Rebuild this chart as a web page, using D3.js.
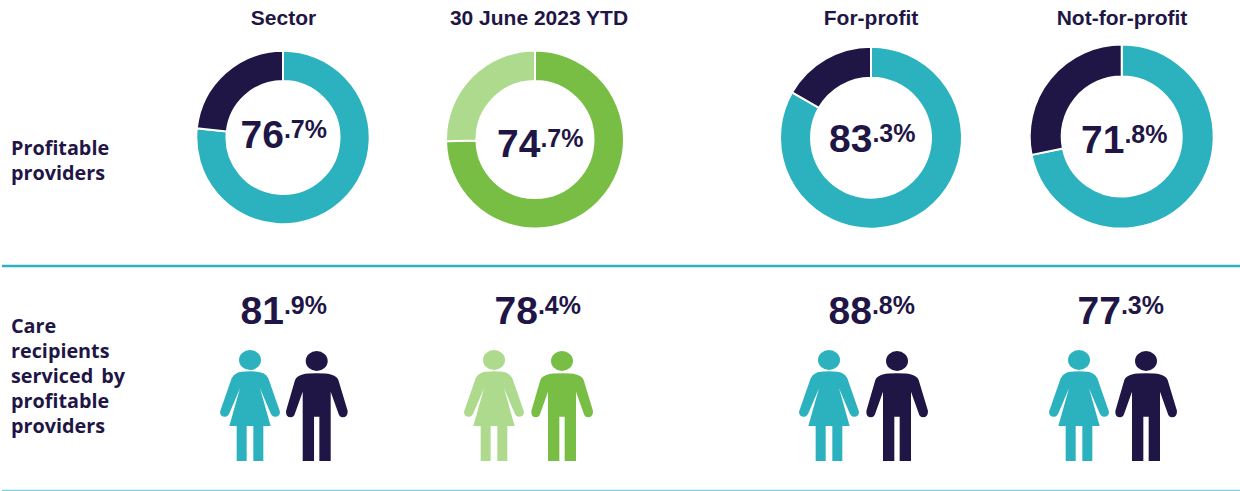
<!DOCTYPE html>
<html>
<head>
<meta charset="utf-8">
<script src="https://cdn.jsdelivr.net/npm/d3@7"></script>
<style>
  html, body { margin: 0; padding: 0; background: #fff; overflow: hidden; }
  text { fill: #1f1646; font-family: "Liberation Sans", Arial, sans-serif; }
</style>
</head>
<body>
<svg id="chart" width="1240" height="491"></svg>
<script>
const categories = ["Sector", "30 June 2023 YTD", "For-profit", "Not-for-profit"];
const profitableProviders = [76.7, 74.7, 83.3, 71.8];
const careRecipients = [81.9, 78.4, 88.8, 77.3];
const rowLabels = [["Profitable", "providers"], ["Care", "recipients", "serviced by", "profitable", "providers"]];

const teal = "#2cb2be", navy = "#1f1646", green = "#78be44", lightGreen = "#aeda8d";

// layout. the donuts are not quite the same size
const donutLayout = [
  { cx: 283, cy: 137.5, r: 86.7, inner: 56.5, labelX: 240.5, labelY: 148, headX: 283.5 },
  { cx: 535, cy: 139.5, r: 89, inner: 58.5, labelX: 497, labelY: 156.5, headX: 539 },
  { cx: 871, cy: 137.7, r: 91, inner: 60, labelX: 829, labelY: 151.5, headX: 871 },
  { cx: 1121.7, cy: 136.5, r: 92, inner: 60, labelX: 1081, labelY: 153, headX: 1122 }
];
const careLayout = [
  { labelX: 240.5, female: 250, male: 316.7 },
  { labelX: 494.5, female: 494, male: 562 },
  { labelX: 828.5, female: 829, male: 897 },
  { labelX: 1077.5, female: 1079, male: 1146 }
];
const colours = [[teal, navy], [green, lightGreen], [teal, navy], [teal, navy]];
const figureColours = [[teal, navy], [lightGreen, green], [teal, navy], [teal, navy]];

// figures, origin at the centre of the head
const femalePath = "M-40,40 Q-30,34 0,34 Q30,34 40,40 Q50,44 55,55 L90,155 Q90,170 75,170 Q65,170 60,155 L30,85 L62,198 L40,198 L40,303 L10,303 L10,198 L-10,198 L-10,303 L-40,303 L-40,198 L-62,198 L-30,85 L-60,155 Q-65,170 -75,170 Q-90,170 -90,155 L-55,55 Q-50,44 -40,40 Z";
const malePath = "M-40,40 Q-30,37 0,37 Q30,37 40,40 Q60,45 65,57 L93,150 Q93,169 78,169 Q68,169 65,157 L42,92 L42,300 L8,300 L8,167 L-8,167 L-8,300 L-42,300 L-42,92 L-65,157 Q-68,169 -78,169 Q-93,169 -92,150 L-65,57 Q-60,45 -40,40 Z";

const svg = d3.select("#chart");

const pie = d3.pie().sort(null).value(d => d);

function pctLabel(sel, value, x, y) {
  const parts = value.toFixed(1).split(".");
  const t = sel.append("text").attr("x", x).attr("y", y).attr("font-weight", 700);
  t.append("tspan").attr("font-size", 39).text(parts[0]);
  t.append("tspan").attr("font-size", 25).attr("dy", -10).text("." + parts[1] + "%");
}

// column headings
svg.selectAll(".head")
  .data(categories)
  .enter().append("text")
    .attr("class", "head")
    .attr("x", (d, i) => donutLayout[i].headX)
    .attr("y", 25)
    .attr("text-anchor", "middle")
    .attr("font-size", 21)
    .attr("font-weight", 700)
    .text(d => d);

// row labels
rowLabels.forEach((lines, r) => {
  lines.forEach((line, i) => {
    svg.append("text")
      .attr("x", 11)
      .attr("y", (r === 0 ? 155 : 333) + i * 25)
      .attr("font-size", 19.8)
      .attr("font-weight", 700)
      .attr("word-spacing", 3)
      .style("font-family", "'Open Sans', sans-serif")
      .text(line);
  });
});

// donuts
profitableProviders.forEach((v, i) => {
  const l = donutLayout[i];
  const arc = d3.arc().innerRadius(l.inner).outerRadius(l.r);
  const g = svg.append("g").attr("transform", `translate(${l.cx},${l.cy})`);
  g.selectAll("path")
    .data(pie([v, 100 - v]))
    .enter().append("path")
      .attr("d", arc)
      .attr("fill", (d, j) => colours[i][j])
      .attr("stroke", "#fff")
      .attr("stroke-width", 2);
  pctLabel(svg, v, l.labelX, l.labelY);
});

// care recipient figures
careRecipients.forEach((v, i) => {
  const l = careLayout[i];
  pctLabel(svg, v, l.labelX, 324);
  const female = svg.append("g").attr("transform", `translate(${l.female},360) scale(0.3333)`).attr("fill", figureColours[i][0]);
  female.append("ellipse").attr("rx", 33).attr("ry", 30);
  female.append("path").attr("d", femalePath);
  const male = svg.append("g").attr("transform", `translate(${l.male},361) scale(0.3333)`).attr("fill", figureColours[i][1]);
  male.append("ellipse").attr("rx", 33).attr("ry", 30);
  male.append("path").attr("d", malePath);
});

// row rules
svg.append("line").attr("x1", 2).attr("x2", 1240).attr("y1", 266).attr("y2", 266).attr("stroke", teal).attr("stroke-width", 2.5);
svg.append("line").attr("x1", 2).attr("x2", 1240).attr("y1", 490.5).attr("y2", 490.5).attr("stroke", "#7fd3da").attr("stroke-width", 1.5);
</script>
</body>
</html>
